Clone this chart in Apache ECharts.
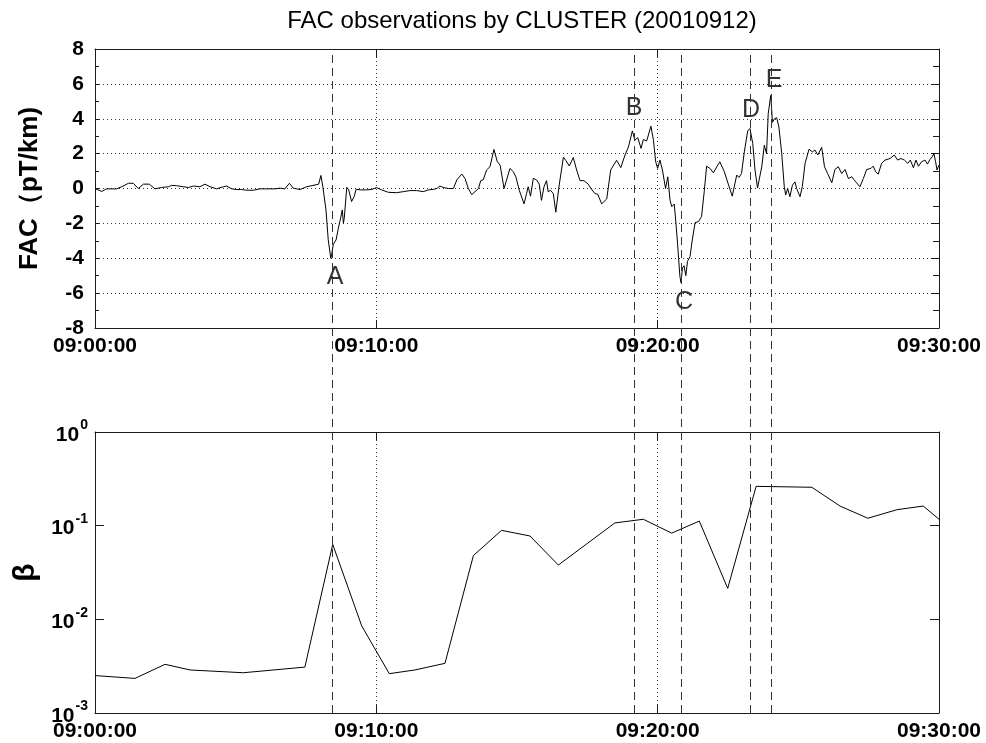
<!DOCTYPE html>
<html>
<head>
<meta charset="utf-8">
<script src="https://cdn.jsdelivr.net/npm/echarts@6/dist/echarts.min.js"></script>
<style>
html,body{margin:0;padding:0;background:#fff;}
#chart{width:986px;height:743px;}
</style>
</head>
<body>
<div id="chart"></div>
<script>
// Minutes after 09:00:00
const facTime = [0,0.24,0.41,0.77,0.95,1.19,1.36,1.54,1.72,1.93,2.13,2.37,2.61,2.72,2.90,3.14,3.32,3.50,3.73,3.91,4.09,4.32,4.56,4.68,4.86,5.04,5.21,5.39,5.63,5.86,6.10,6.40,6.58,6.75,6.91,7.05,7.29,7.52,7.82,7.95,8.03,8.10,8.21,8.29,8.38,8.41,8.47,8.57,8.65,8.73,8.79,8.83,8.86,8.95,9.02,9.12,9.21,9.28,9.45,9.66,9.84,10.01,10.19,10.43,10.72,10.96,11.2,11.43,11.67,11.85,12.03,12.15,12.26,12.38,12.56,12.74,12.86,13.04,13.15,13.27,13.39,13.63,13.71,13.80,13.92,14.04,14.18,14.30,14.40,14.54,14.63,14.75,14.87,14.96,15.08,15.25,15.34,15.40,15.48,15.58,15.70,15.79,15.87,15.96,16.05,16.11,16.19,16.29,16.38,16.50,16.65,16.74,16.86,17.00,17.12,17.24,17.38,17.53,17.65,17.77,17.87,18.01,18.19,18.33,18.54,18.69,18.84,18.96,19.10,19.19,19.29,19.41,19.49,19.61,19.76,19.85,19.93,20.00,20.08,20.17,20.28,20.36,20.44,20.50,20.59,20.65,20.71,20.79,20.83,20.88,20.94,21.00,21.06,21.15,21.23,21.33,21.45,21.56,21.66,21.74,21.86,21.98,22.10,22.21,22.37,22.51,22.65,22.81,22.89,22.98,23.08,23.20,23.28,23.38,23.46,23.55,23.70,23.79,23.87,23.93,24.02,24.08,24.15,24.23,24.31,24.41,24.50,24.55,24.62,24.70,24.79,24.88,24.94,25.06,25.14,25.24,25.38,25.50,25.59,25.69,25.83,25.93,26.04,26.19,26.30,26.42,26.54,26.66,26.78,26.90,27.04,27.19,27.31,27.43,27.58,27.66,27.75,27.84,27.96,28.08,28.26,28.41,28.53,28.65,28.77,28.89,28.98,29.09,29.18,29.27,29.38,29.50,29.59,29.68,29.76,29.82,29.88,29.93,30.0];
const facValue = [0,-0.17,-0.02,-0.02,0.1,0.3,0.3,0,0.25,0.25,-0.02,0.06,0.1,0.18,0.16,0.1,0.06,0.14,0.1,0.25,0.1,-0.02,0.1,0.14,-0.02,-0.06,-0.06,-0.1,-0.1,-0.02,-0.02,-0.02,0.02,-0.02,0.3,0.02,-0.06,0.1,0.2,0.25,0.75,0.1,-1.23,-2.94,-4.0,-3.8,-3.2,-2.94,-2.28,-1.7,-1.23,-1.99,-1.7,0.07,-0.08,-0.75,-0.47,-0.05,-0.08,-0.08,-0.05,0.05,-0.08,-0.22,-0.24,-0.18,-0.12,-0.12,-0.18,-0.08,-0.05,0,0.14,0.06,0,0,0.49,0.83,0.58,0,-0.35,0,0.45,0.5,1.06,1.25,2.24,1.54,1.34,0,0.49,1.15,0.96,0.67,-0.1,-0.88,-0.29,0.1,-0.44,0.58,0.49,0.25,-0.68,0.1,0.45,-0.19,-0.1,-0.29,-1.36,0.2,1.8,1.6,1.29,1.78,1.06,0.45,0.45,0.25,-0.05,-0.29,-0.33,-0.88,-0.6,1.06,1.62,1.2,1.92,2.38,3.3,2.77,2.92,2.3,2.81,2.73,3.57,2.77,1.53,1.15,1.63,1.06,0,0.67,-0.67,-1.04,-0.89,-2.0,-3.23,-5.04,-5.4,-4.56,-4.43,-5.0,-4.18,-3.9,-2.95,-1.96,-1.9,-1.61,-0.1,1.28,1.15,0.9,1.24,1.53,0.96,0.25,-0.44,0.77,0.63,0.86,2.1,3.3,3.44,2.58,1.06,0.03,1.25,2.48,2.0,4.29,5.34,3.8,4.0,4.06,3.53,2.0,0.1,-0.37,0,-0.47,0.19,0.38,0,-0.47,0.1,1.44,2.25,2.1,2.21,1.92,2.36,1.25,0.86,0.33,1.09,1.25,0.86,1.09,0.57,0.67,0.38,0.1,0.57,1.09,1.15,1.28,0.96,0.82,1.44,1.63,1.72,1.92,1.63,1.72,1.63,1.44,1.63,1.19,1.63,1.28,1.53,1.63,1.4,1.67,1.82,2.0,1.53,1.06,1.34];

const betaTime = [0,1.42,2.49,3.38,5.27,7.46,8.45,9.48,10.46,11.37,12.44,13.45,14.45,15.46,16.47,18.48,19.49,20.50,21.48,22.49,23.50,25.48,26.48,27.47,28.50,29.44,30.0];
const betaValue = [0.00251,0.00234,0.00331,0.00288,0.00269,0.00309,0.0631,0.00851,0.00263,0.00288,0.00339,0.0479,0.0891,0.0776,0.038,0.107,0.117,0.0832,0.112,0.0214,0.263,0.257,0.162,0.12,0.148,0.162,0.117];

const eventTimes = [8.45, 19.16, 20.83, 23.28, 24.03];
const eventLetters = ['A','B','C','D','E'];
const eventLabelTime = [8.53, 19.16, 20.94, 23.32, 24.14];
const eventLabelValue = [-5.1, 4.6, -6.5, 4.5, 6.2];

const xTicks = [0, 10, 20, 30];
const xTickLabels = ['09:00:00','09:10:00','09:20:00','09:30:00'];

const FONT = 'Liberation Sans, Arial, sans-serif';
const dark = '#1a1a1a';

const facData = facTime.map((t,i)=>[t, facValue[i]]);
const betaData = betaTime.map((t,i)=>[t, betaValue[i]]);
const letterData = eventLetters.map((l,i)=>[eventLabelTime[i], eventLabelValue[i], l]);

function xLabel(v){ const i = xTicks.indexOf(v); return i>=0 ? xTickLabels[i] : ''; }

const gridTop = {left:95, right:47, top:49, height:279};
const gridBot = {left:95, right:47, top:432, height:281};

const baseX = (gi, pos, labels) => ({
  type:'value', gridIndex:gi, min:0, max:30, interval:10, position:pos,
  axisLine:{show:true, onZero:false, lineStyle:{color:dark, width:1}},
  axisTick:{show:true, inside:true, length:8, lineStyle:{color:dark}},
  axisLabel:{show:labels, formatter:xLabel, color:'#000', fontFamily:FONT, fontWeight:'bold', fontSize:21, margin:8, showMinLabel:true, showMaxLabel:true, hideOverlap:false},
  splitLine:{show:pos==='bottom', lineStyle:{type:[1,3], color:'#333', width:1}}
});

const chart = echarts.init(document.getElementById('chart'), null, {renderer:'canvas'});
chart.setOption({
  animation:false,
  backgroundColor:'#fff',
  title:{text:'FAC observations by CLUSTER (20010912)', left:517, textAlign:'center', top:4,
    textStyle:{fontFamily:FONT, fontWeight:'normal', fontSize:24, color:'#000'}},
  grid:[gridTop, gridBot, {left:95, right:47, top:49, height:664}],
  xAxis:[
    baseX(0,'bottom',true),
    baseX(0,'top',false),
    baseX(1,'bottom',true),
    baseX(1,'top',false),
    {type:'value', gridIndex:2, min:0, max:30, show:false}
  ],
  yAxis:[
    {type:'value', gridIndex:0, min:-8, max:8, interval:2, position:'left',
      name:'FAC（pT/km)', nameLocation:'middle', nameGap:52, nameRotate:90,
      nameTextStyle:{fontFamily:FONT, fontWeight:'bold', fontSize:26, color:'#000'},
      axisLine:{show:true, onZero:false, lineStyle:{color:dark}},
      axisTick:{show:true, inside:true, length:4, lineStyle:{color:dark}},
      minorTick:{show:true, splitNumber:2, length:4, lineStyle:{color:dark}},
      axisLabel:{color:'#000', fontFamily:FONT, fontWeight:'bold', fontSize:21, margin:11},
      splitLine:{show:true, lineStyle:{type:[1,3], color:'#333', width:1}}},
    {type:'value', gridIndex:0, min:-8, max:8, interval:2, position:'right',
      axisLine:{show:true, onZero:false, lineStyle:{color:dark}},
      axisTick:{show:true, inside:true, length:8, lineStyle:{color:dark}},
      minorTick:{show:true, splitNumber:2, length:6, lineStyle:{color:dark}},
      axisLabel:{show:false}, splitLine:{show:false}},
    {type:'log', logBase:10, gridIndex:1, min:0.001, max:1, position:'left',
      name:'β', nameLocation:'middle', nameGap:44, nameRotate:90,
      nameTextStyle:{fontFamily:FONT, fontWeight:'bold', fontSize:30, color:'#000'},
      axisLine:{show:true, onZero:false, lineStyle:{color:dark}},
      axisTick:{show:true, inside:true, length:9, lineStyle:{color:dark}},
      axisLabel:{color:'#000', margin:7, showMinLabel:true, showMaxLabel:true,
        formatter:function(v){ const e = Math.round(Math.log10(v)); return '{b|10}{s|' + e + '}'; },
        rich:{b:{fontFamily:FONT, fontWeight:'bold', fontSize:21, verticalAlign:'bottom', lineHeight:27},
              s:{fontFamily:FONT, fontWeight:'bold', fontSize:14, verticalAlign:'top', lineHeight:27, padding:[0,0,0,1]}}},
      splitLine:{show:false}},
    {type:'log', logBase:10, gridIndex:1, min:0.001, max:1, position:'right',
      axisLine:{show:true, onZero:false, lineStyle:{color:dark}},
      axisTick:{show:true, inside:true, length:9, lineStyle:{color:dark}},
      axisLabel:{show:false}, splitLine:{show:false}},
    {type:'value', gridIndex:2, min:0, max:1, show:false}
  ],
  series:[
    {type:'line', xAxisIndex:0, yAxisIndex:0, data:facData, showSymbol:false, symbol:'none',
      lineStyle:{color:'#000', width:1}, silent:true},
    {type:'scatter', xAxisIndex:0, yAxisIndex:0, data:letterData, symbolSize:0, silent:true,
      label:{show:true, position:'inside', formatter:p=>p.value[2], color:'#000', fontFamily:FONT, fontSize:25}},
    {type:'line', xAxisIndex:2, yAxisIndex:2, data:betaData, showSymbol:false, symbol:'none',
      lineStyle:{color:'#000', width:1}, silent:true},
    {type:'line', xAxisIndex:4, yAxisIndex:4, data:[], silent:true,
      markLine:{symbol:'none', silent:true, label:{show:false},
        lineStyle:{type:[8,5], color:'#333', width:1},
        data:eventTimes.map(t=>({xAxis:t}))}}
  ]
});
</script>
</body>
</html>
